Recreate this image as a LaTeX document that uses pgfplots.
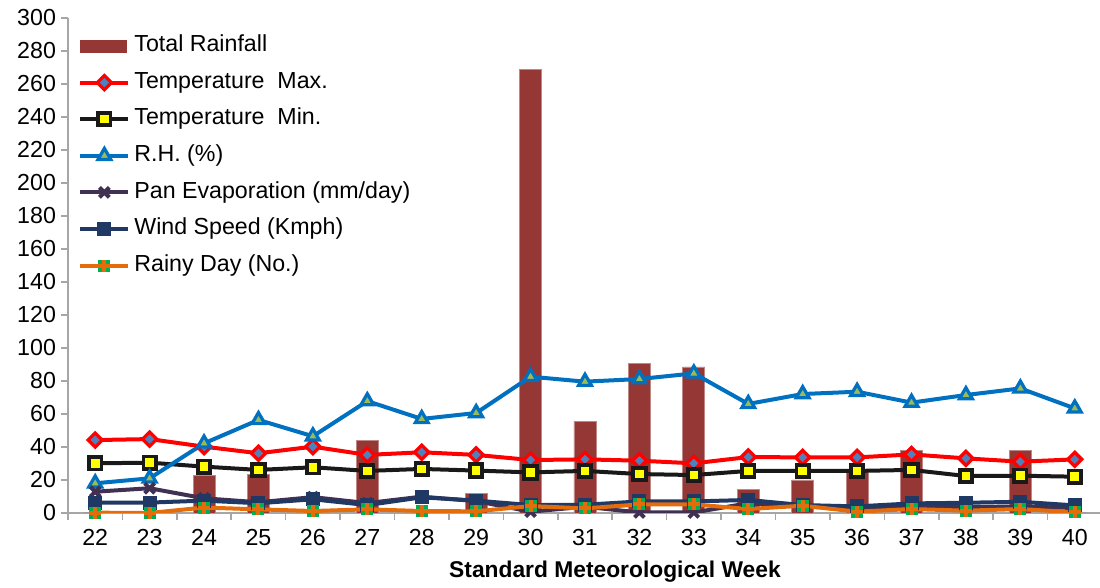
\documentclass[border=0pt]{standalone}
\usepackage{pgfplots}
\pgfplotsset{compat=1.18}
\usepackage{pgfplotstable}
\usepackage{fontspec}
\setmainfont{Liberation Sans}
\definecolor{rainc}{RGB}{149,55,53}
\definecolor{tmaxc}{RGB}{255,0,0}
\definecolor{tmaxfill}{RGB}{79,129,189}
\definecolor{tminfill}{RGB}{255,255,0}
\definecolor{rhc}{RGB}{0,112,192}
\definecolor{rhfill}{RGB}{155,187,89}
\definecolor{panc}{RGB}{64,49,82}
\definecolor{windc}{RGB}{31,56,100}
\definecolor{rainyc}{RGB}{228,108,10}
\definecolor{rainyfill}{RGB}{0,176,80}
\definecolor{axisgray}{RGB}{166,166,166}

\pgfdeclareplotmark{sqplus}{%
  \pgfpathrectangle{\pgfqpoint{-\pgfplotmarksize}{-\pgfplotmarksize}}{\pgfqpoint{2\pgfplotmarksize}{2\pgfplotmarksize}}%
  \pgfsetfillcolor{rainyfill}\pgfusepathqfill
  \pgfpathmoveto{\pgfqpoint{-\pgfplotmarksize}{0pt}}\pgfpathlineto{\pgfqpoint{\pgfplotmarksize}{0pt}}%
  \pgfpathmoveto{\pgfqpoint{0pt}{-\pgfplotmarksize}}\pgfpathlineto{\pgfqpoint{0pt}{\pgfplotmarksize}}%
  \pgfsetstrokecolor{rainyc}\pgfsetlinewidth{2pt}\pgfusepathqstroke}

\pgfplotstableread{
wk rain tmax tmin rh pan wind rainy
22 0    44.2 30.1 18.0 12.9 6.3 0.2
23 0    44.8 30.5 21.0 15.0 6.3 0
24 23   40.2 28.1 42.2 8.9  7.5 3.3
25 23.5 36.2 26.1 56.4 6.5  5.9 2.2
26 0    40.2 27.7 46.5 9.6  8.3 1.2
27 44   35.2 25.5 67.8 6.0  4.8 2.2
28 0    36.8 26.7 57.0 9.9  9.5 1.2
29 12   35.2 25.7 60.6 7.2  7.5 1.0
30 269  32.1 24.6 82.6 0.8  4.8 4.2
31 55.5 32.5 25.5 79.6 3.8  5.0 2.8
32 90.5 31.7 23.6 81.2 0.3  7.0 5.2
33 88.5 30.1 23.0 84.6 0.3  7.0 5.2
34 14.5 33.9 25.5 66.1 5.9  7.9 2.4
35 20   33.7 25.5 72.1 4.0  4.8 4.4
36 26   33.7 25.5 73.5 2.5  4.0 0.8
37 38   35.5 26.1 66.9 3.5  5.8 2.4
38 0    33.1 22.4 71.5 3.5  6.2 1.4
39 38   31.1 22.6 75.5 4.0  6.8 2.4
40 0    32.5 22.0 63.4 3.0  4.6 0.4
}\datatable

\begin{document}
\begin{tikzpicture}
\begin{axis}[name=ax,
  scale only axis, width=517pt, height=247.5pt,
  xmin=21.5, xmax=40.5, ymin=0, ymax=300,
  axis lines*=left,
  axis line style={axisgray, line width=0.8pt},
  tick align=outside,
  tick style={axisgray, line width=0.8pt},
  major tick length=3.5pt,
  xtick={21.5,22.5,...,40.5}, xticklabels={},
  extra x ticks={22,23,...,40},
  extra x tick labels={22,23,24,25,26,27,28,29,30,31,32,33,34,35,36,37,38,39,40},
  extra x tick style={tick style={draw=none}, xticklabel style={yshift=-1.2pt}},
  ytick={0,20,...,300},
  /pgf/number format/assume math mode=true,
  ticklabel style={font=\fontsize{11.6}{13}\selectfont, text=black},
  yticklabel style={xshift=1pt},
  xlabel={Standard Meteorological Week},
  x label style={at={(axis description cs:0.529,0)}, anchor=base, yshift=-32.5pt,
    font=\fontsize{11.4}{13}\selectfont\bfseries},
  legend cell align=left,
  legend style={draw=none, fill=none, inner sep=0pt,
    at={(rel axis cs:0,1)}, anchor=north west, xshift=5pt, yshift=-8.5pt,
    font=\fontsize{11.6}{13}\selectfont,
    nodes={inner sep=0pt, text height=8.2pt, text depth=2.4pt},
    row sep=7.7pt,
    /tikz/every odd column/.style={column sep=2pt}},
  legend image code/.code={%
    \draw[mark repeat=2, mark phase=2, #1] plot coordinates {(0pt,0pt) (12pt,0pt) (24pt,0pt)};},
  every axis plot/.append style={line width=2pt},
]
\addplot[ybar, bar width=11pt, fill=rainc, draw=rainc!60!white, line width=0.4pt,
  legend image code/.code={\fill[rainc] (0pt,-3pt) rectangle (23pt,3pt);}]
  table[x=wk, y=rain] {\datatable};
\addlegendentry{Total Rainfall}
\addplot[color=tmaxc, mark=square*, mark size=2.5pt,
  mark options={rotate=45, draw=tmaxc, fill=tmaxfill, line width=1.6pt}]
  table[x=wk, y=tmax] {\datatable};
\addlegendentry{Temperature\ \ Max.}
\addplot[color=black!90, mark=square*, mark size=3.1pt,
  mark options={draw=black!90, fill=tminfill, line width=1.9pt}]
  table[x=wk, y=tmin] {\datatable};
\addlegendentry{Temperature\ \ Min.}
\addplot[color=rhc, mark=triangle*, mark size=3.7pt,
  mark options={draw=rhc, fill=rhfill, line width=1.6pt}]
  table[x=wk, y=rh] {\datatable};
\addlegendentry{R.H. (\%)}
\addplot[color=panc, mark=x, mark size=3.5pt,
  mark options={draw=panc, line width=2pt}]
  table[x=wk, y=pan] {\datatable};
\addlegendentry{Pan Evaporation (mm/day)}
\addplot[color=windc, mark=square*, mark size=3pt,
  mark options={draw=windc, fill=windc, line width=1pt}]
  table[x=wk, y=wind] {\datatable};
\addlegendentry{Wind Speed (Kmph)}
\addplot[color=rainyc, mark=sqplus, mark size=3pt]
  table[x=wk, y=rainy] {\datatable};
\addlegendentry{Rainy Day (No.)}
\end{axis}
\pgfresetboundingbox
\useasboundingbox ([shift={(-34pt,-37.5pt)}]ax.south west) rectangle ([shift={(516pt,256.5pt)}]ax.south west);
\end{tikzpicture}
\end{document}
